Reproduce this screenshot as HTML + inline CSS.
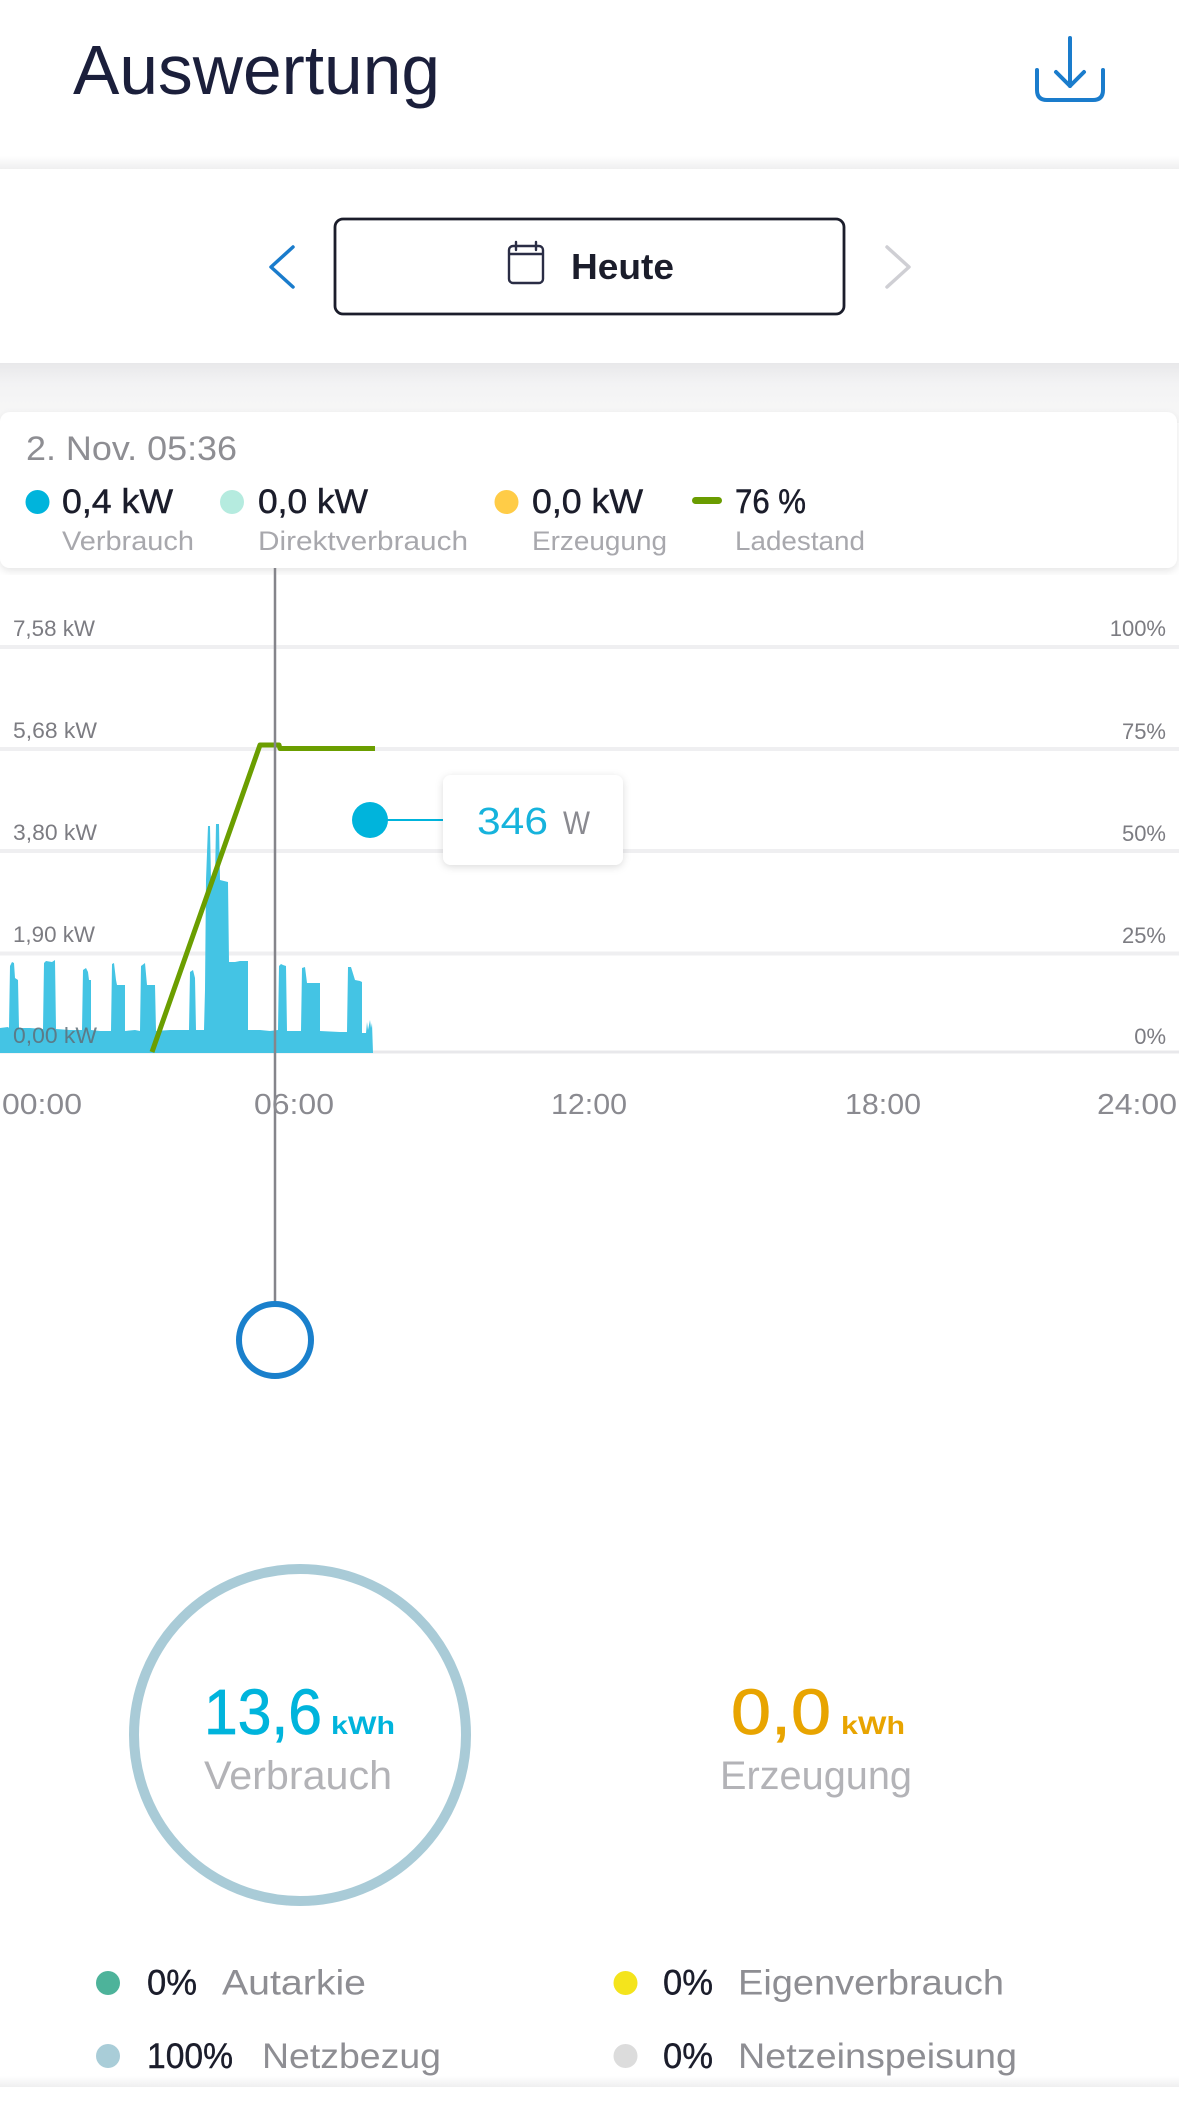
<!DOCTYPE html>
<html>
<head>
<meta charset="utf-8">
<style>
  html, body { margin: 0; padding: 0; background: #ffffff; }
  body { width: 1179px; height: 2110px; overflow: hidden; }
  svg { display: block; }
  text { font-family: "Liberation Sans", "DejaVu Sans", sans-serif; }
</style>
</head>
<body>
<svg width="1179" height="2110" viewBox="0 0 1179 2110" xmlns="http://www.w3.org/2000/svg">
  <defs>
    <linearGradient id="hdrShadow" x1="0" y1="0" x2="0" y2="1">
      <stop offset="0" stop-color="#ffffff"/>
      <stop offset="1" stop-color="#efeff0"/>
    </linearGradient>
    <linearGradient id="bandGrad" x1="0" y1="0" x2="0" y2="1">
      <stop offset="0" stop-color="#e8e8ea"/>
      <stop offset="0.35" stop-color="#f3f3f4"/>
      <stop offset="1" stop-color="#f8f8f8"/>
    </linearGradient>
    <linearGradient id="botGrad" x1="0" y1="0" x2="0" y2="1">
      <stop offset="0" stop-color="#ffffff"/>
      <stop offset="1" stop-color="#efeff0"/>
    </linearGradient>
    <filter id="cardShadow" x="-5%" y="-20%" width="110%" height="150%">
      <feDropShadow dx="0" dy="3" stdDeviation="4" flood-color="#000" flood-opacity="0.10"/>
    </filter>
    <filter id="tipShadow" x="-20%" y="-30%" width="140%" height="170%">
      <feDropShadow dx="0" dy="2" stdDeviation="4" flood-color="#000" flood-opacity="0.14"/>
    </filter>
  </defs>

  <!-- page background -->
  <rect x="0" y="0" width="1179" height="2110" fill="#ffffff"/>

  <!-- ===== Header ===== -->
  <text x="73" y="94" font-size="70" fill="#1b1f3b" textLength="367" lengthAdjust="spacingAndGlyphs">Auswertung</text>
  <!-- download icon -->
  <g fill="none" stroke="#1a7ccc" stroke-width="4" stroke-linecap="round" stroke-linejoin="round">
    <line x1="1070" y1="38" x2="1070" y2="86"/>
    <polyline points="1056,72 1070,86 1084,72"/>
    <path d="M1037,70 L1037,90 Q1037,100 1047,100 L1093,100 Q1103,100 1103,90 L1103,70"/>
  </g>

  <!-- header shadow -->
  <rect x="0" y="156" width="1179" height="13" fill="url(#hdrShadow)"/>

  <!-- ===== Date nav card ===== -->
  <rect x="0" y="169" width="1179" height="194" fill="#ffffff"/>
  <polyline points="293,247 271,267 293,287" fill="none" stroke="#1a7ccc" stroke-width="3.5" stroke-linecap="round" stroke-linejoin="round"/>
  <polyline points="887,247 909,267 887,287" fill="none" stroke="#cfcfd4" stroke-width="3.5" stroke-linecap="round" stroke-linejoin="round"/>
  <rect x="335" y="219" width="509" height="95" rx="8" fill="#ffffff" stroke="#1b1d2b" stroke-width="2.8"/>
  <!-- calendar icon -->
  <g fill="none" stroke="#2a2d45" stroke-width="2.4">
    <rect x="509" y="246" width="34" height="37" rx="4"/>
    <line x1="509" y1="254" x2="543" y2="254"/>
    <line x1="516" y1="242" x2="516" y2="250" stroke-linecap="round"/>
    <line x1="536" y1="242" x2="536" y2="250" stroke-linecap="round"/>
  </g>
  <text x="571" y="279" font-size="36" font-weight="bold" fill="#1b1d2b" textLength="103" lengthAdjust="spacingAndGlyphs">Heute</text>

  <!-- gray band -->
  <rect x="0" y="363" width="1179" height="60" fill="url(#bandGrad)"/>

  <!-- ===== Legend card ===== -->
  <rect x="0" y="412" width="1177" height="156" rx="10" fill="#ffffff" filter="url(#cardShadow)"/>
  <rect x="0" y="575" width="1179" height="10" fill="#ffffff"/>
  <text x="26" y="460" font-size="34" fill="#8e8e93" textLength="211" lengthAdjust="spacingAndGlyphs">2. Nov. 05:36</text>

  <circle cx="37.5" cy="502" r="12" fill="#00b4dc"/>
  <text x="62" y="513" font-size="34" fill="#1b1d2b" stroke="#1b1d2b" stroke-width="0.5" textLength="111" lengthAdjust="spacingAndGlyphs">0,4 kW</text>
  <circle cx="232" cy="502" r="12" fill="#b5ebdf"/>
  <text x="258" y="513" font-size="34" fill="#1b1d2b" stroke="#1b1d2b" stroke-width="0.5" textLength="110" lengthAdjust="spacingAndGlyphs">0,0 kW</text>
  <circle cx="506.5" cy="502" r="12" fill="#ffcc47"/>
  <text x="532" y="513" font-size="34" fill="#1b1d2b" stroke="#1b1d2b" stroke-width="0.5" textLength="111" lengthAdjust="spacingAndGlyphs">0,0 kW</text>
  <rect x="692" y="497" width="30" height="7" rx="3.5" fill="#6a9c00"/>
  <text x="735" y="513" font-size="34" fill="#1b1d2b" stroke="#1b1d2b" stroke-width="0.5" textLength="71" lengthAdjust="spacingAndGlyphs">76 %</text>

  <text x="62" y="550" font-size="27" fill="#a8a8ad" textLength="132" lengthAdjust="spacingAndGlyphs">Verbrauch</text>
  <text x="258" y="550" font-size="27" fill="#a8a8ad" textLength="210" lengthAdjust="spacingAndGlyphs">Direktverbrauch</text>
  <text x="532" y="550" font-size="27" fill="#a8a8ad" textLength="135" lengthAdjust="spacingAndGlyphs">Erzeugung</text>
  <text x="735" y="550" font-size="27" fill="#a8a8ad" textLength="130" lengthAdjust="spacingAndGlyphs">Ladestand</text>

  <!-- ===== Chart ===== -->
  <g stroke="#efeff1" stroke-width="4">
    <line x1="0" y1="647" x2="1179" y2="647"/>
    <line x1="0" y1="749" x2="1179" y2="749"/>
    <line x1="0" y1="851" x2="1179" y2="851"/>
    <line x1="0" y1="953.5" x2="1179" y2="953.5"/>
  </g>
  <line x1="0" y1="1052" x2="1179" y2="1052" stroke="#e8e8eb" stroke-width="3"/>

  <g font-size="22" fill="#7c7c82">
    <text x="13" y="636" textLength="82" lengthAdjust="spacingAndGlyphs">7,58 kW</text>
    <text x="13" y="738" textLength="84" lengthAdjust="spacingAndGlyphs">5,68 kW</text>
    <text x="13" y="840" textLength="84" lengthAdjust="spacingAndGlyphs">3,80 kW</text>
    <text x="13" y="942" textLength="82" lengthAdjust="spacingAndGlyphs">1,90 kW</text>
  </g>
  <g font-size="22" fill="#7c7c82" text-anchor="end">
    <text x="1166" y="636">100%</text>
    <text x="1166" y="739">75%</text>
    <text x="1166" y="841">50%</text>
    <text x="1166" y="943">25%</text>
    <text x="1166" y="1044">0%</text>
  </g>

  <!-- consumption area -->
  <path fill="#44c4e4" d="M0,1053 L0,1028 L8,1027 L9,1028 L10,966 L12,962 L14,963 L15,978 L18,980 L19,1028 L30,1028 L43,1029
    L44,963 L46,961 L52,962 L55,960 L56,1029 L70,1030 L82,1030
    L83,970 L86,968 L88,972 L89,980 L91,980 L91,1030 L100,1031 L111,1031
    L112,964 L114,963 L116,980 L117,985 L125,985 L125,1031 L135,1030 L140,1031
    L141,966 L145,963 L147,985 L155,985 L156,1031 L170,1030 L189,1030
    L190,972 L193,970 L195,978 L196,1030 L204,1030
    L205,990 L206,880 L208,826 L210,826 L211,880 L215,880 L216,824 L219,824 L220,880 L228,882 L229,962 L235,962 L240,961 L248,961 L248,1030
    L260,1030 L270,1031 L278,1030 L279,966 L281,964 L283,965 L286,966 L287,1031 L301,1031
    L302,968 L305,967 L307,983 L320,983 L320,1031 L340,1032 L347,1032
    L348,967 L351,967 L355,980 L360,981 L362,982 L362,1033 L366,1033
    L367,1022 L368,1030 L370,1020 L371,1028 L372,1023 L373,1053 Z"/>

  <text x="13" y="1043" font-size="22" fill="#5f6f78" fill-opacity="0.85" textLength="84" lengthAdjust="spacingAndGlyphs">0,00 kW</text>

  <!-- state of charge line -->
  <polyline points="152,1052 260,745 279,745 280,748.5 375,748.5" fill="none" stroke="#6b9e00" stroke-width="5" stroke-linejoin="round"/>

  <!-- cursor line -->
  <line x1="275" y1="568" x2="275" y2="1302" stroke="#85858b" stroke-width="2.5"/>

  <!-- tooltip -->
  <line x1="386" y1="820" x2="445" y2="820" stroke="#00b4dc" stroke-width="2"/>
  <circle cx="370" cy="820" r="18" fill="#00b4dc"/>
  <rect x="443" y="775" width="180" height="90" rx="8" fill="#ffffff" filter="url(#tipShadow)"/>
  <text x="477" y="834" font-size="38" fill="#16b3dc" textLength="71" lengthAdjust="spacingAndGlyphs">346</text>
  <text x="563" y="834" font-size="32" fill="#8a8a90" textLength="27" lengthAdjust="spacingAndGlyphs">W</text>

  <!-- x axis labels -->
  <g font-size="29" fill="#8a8a90">
    <text x="2" y="1114" textLength="80" lengthAdjust="spacingAndGlyphs">00:00</text>
    <text x="254" y="1114" textLength="80" lengthAdjust="spacingAndGlyphs">06:00</text>
    <text x="551" y="1114" textLength="76" lengthAdjust="spacingAndGlyphs">12:00</text>
    <text x="845" y="1114" textLength="76" lengthAdjust="spacingAndGlyphs">18:00</text>
    <text x="1097" y="1114" textLength="80" lengthAdjust="spacingAndGlyphs">24:00</text>
  </g>

  <!-- handle -->
  <circle cx="275" cy="1340" r="36" fill="#ffffff" stroke="#1a80cc" stroke-width="6"/>

  <!-- ===== Summary ===== -->
  <circle cx="300" cy="1735" r="166" fill="none" stroke="#a9cbd7" stroke-width="10"/>
  <text x="204" y="1734" font-size="64" fill="#00b4dc" stroke="#00b4dc" stroke-width="0.8" textLength="118" lengthAdjust="spacingAndGlyphs">13,6</text>
  <text x="331" y="1734" font-size="25" font-weight="bold" fill="#00b4dc" textLength="64" lengthAdjust="spacingAndGlyphs">kWh</text>
  <text x="204" y="1789" font-size="40" fill="#b3b3b7" textLength="188" lengthAdjust="spacingAndGlyphs">Verbrauch</text>

  <text x="731" y="1734" font-size="64" fill="#e8a400" stroke="#e8a400" stroke-width="0.8" textLength="100" lengthAdjust="spacingAndGlyphs">0,0</text>
  <text x="841" y="1734" font-size="25" font-weight="bold" fill="#e8a400" textLength="64" lengthAdjust="spacingAndGlyphs">kWh</text>
  <text x="720" y="1789" font-size="40" fill="#b3b3b7" textLength="192" lengthAdjust="spacingAndGlyphs">Erzeugung</text>

  <!-- bottom legend -->
  <circle cx="108" cy="1983" r="12" fill="#4db39a"/>
  <text x="147" y="1994.5" font-size="35" fill="#1b1d2b" stroke="#1b1d2b" stroke-width="0.4" textLength="50" lengthAdjust="spacingAndGlyphs">0%</text>
  <text x="222" y="1994.5" font-size="35" fill="#8e8e93" textLength="144" lengthAdjust="spacingAndGlyphs">Autarkie</text>

  <circle cx="625.5" cy="1983" r="12" fill="#f4e41c"/>
  <text x="663" y="1994.5" font-size="35" fill="#1b1d2b" stroke="#1b1d2b" stroke-width="0.4" textLength="50" lengthAdjust="spacingAndGlyphs">0%</text>
  <text x="738" y="1994.5" font-size="35" fill="#8e8e93" textLength="266" lengthAdjust="spacingAndGlyphs">Eigenverbrauch</text>

  <circle cx="108" cy="2056" r="12" fill="#a9cdd8"/>
  <text x="147" y="2068" font-size="35" fill="#1b1d2b" stroke="#1b1d2b" stroke-width="0.4" textLength="86" lengthAdjust="spacingAndGlyphs">100%</text>
  <text x="262" y="2068" font-size="35" fill="#8e8e93" textLength="179" lengthAdjust="spacingAndGlyphs">Netzbezug</text>

  <circle cx="625.5" cy="2056" r="12" fill="#dcdcdc"/>
  <text x="663" y="2068" font-size="35" fill="#1b1d2b" stroke="#1b1d2b" stroke-width="0.4" textLength="50" lengthAdjust="spacingAndGlyphs">0%</text>
  <text x="738" y="2068" font-size="35" fill="#8e8e93" textLength="279" lengthAdjust="spacingAndGlyphs">Netzeinspeisung</text>

  <!-- bottom band -->
  <rect x="0" y="2076" width="1179" height="11" fill="url(#botGrad)"/>
  <rect x="0" y="2087" width="1179" height="23" fill="#ffffff"/>
</svg>
</body>
</html>
